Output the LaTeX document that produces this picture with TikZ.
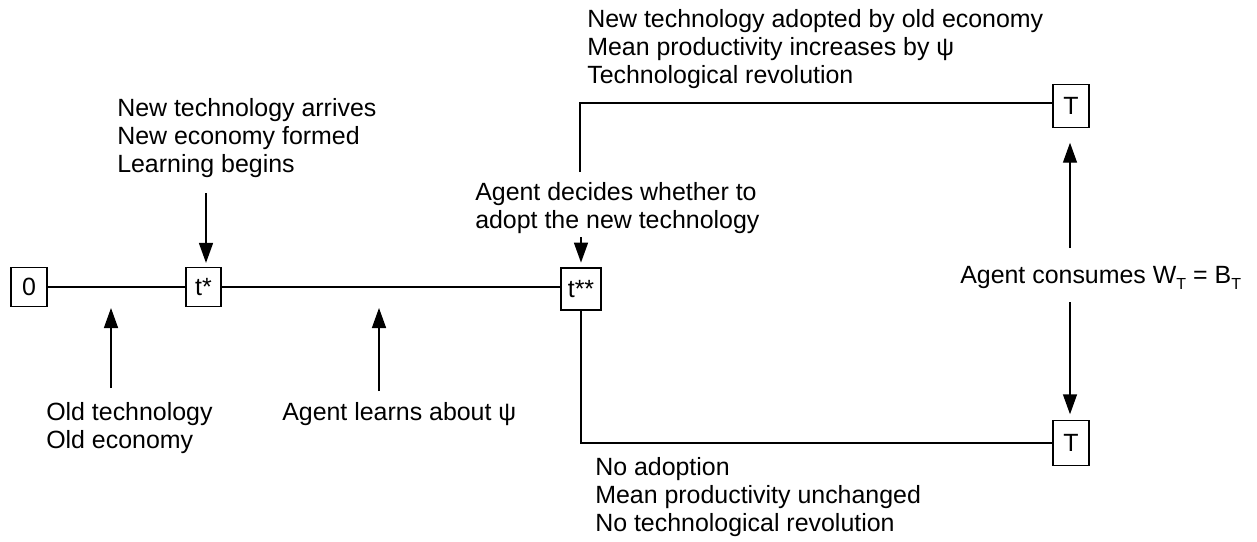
\documentclass[tikz,border=0pt]{standalone}
\usepackage{fontspec}
\setmainfont{Liberation Sans}
\usetikzlibrary{arrows.meta}
\begin{document}
\begin{tikzpicture}[x=0.75pt,y=-0.75pt,
  every node/.style={font=\fontsize{18.7}{21.2}\selectfont},
  stage/.style={draw, line width=1.1pt, inner sep=0pt},
  txt/.style={align=left, anchor=north west, inner sep=0pt},
  link/.style={line width=1.1pt},
  arr/.style={line width=1.1pt, -{Triangle[length=15pt,width=10.5pt]}}]
\useasboundingbox (0,0) rectangle (1257,542);
% stage boxes
\node[stage, minimum width=27pt, minimum height=29pt] (z) at (29,287) {0};
\node[stage, minimum width=26pt, minimum height=29pt] (ts) at (203.5,287) {t*};
\node[stage, minimum width=30pt, minimum height=31.5pt] (tss) at (581,289) {t**};
\node[stage, minimum width=27pt, minimum height=32pt] (Tu) at (1071,106) {T};
\node[stage, minimum width=27pt, minimum height=34pt] (Td) at (1071,443) {T};
% timeline
\draw[link] (z.east) -- (ts.west);
\draw[link] (ts.east) -- (tss.west |- ts.east);
\draw[link] (tss.south) |- (Td.west);
\coordinate (up) at (580,172);
\draw[link] (up) |- ([yshift=2.25pt]Tu.west);
% arrows
\coordinate (a1) at (206,193);
\draw[arr, shorten >=3pt] (a1) -- (a1 |- ts.north);
\coordinate (a2) at (581,237);
\draw[arr, shorten >=3.5pt] (a2) -- (tss.north);
\coordinate (a3s) at (111,388);
\coordinate (a3e) at (111,308);
\draw[arr] (a3s) -- (a3e);
\coordinate (a4s) at (379,391);
\coordinate (a4e) at (379,308);
\draw[arr] (a4s) -- (a4e);
\coordinate (c1) at (1070,248);
\draw[arr, shorten >=11pt] (c1) -- (c1 |- Tu.south);
\coordinate (c2) at (1070,302);
\draw[arr, shorten >=4pt] (c2) -- (c2 |- Td.north);
% texts
\node[txt] (n1) at (117,98) {New technology arrives\\New economy formed\\Learning begins};
\node[txt] (n2) at (587,9) {New technology adopted by old economy\\Mean productivity increases by ψ\\Technological revolution};
\node[txt] (n3) at (475,182) {Agent decides whether to\\adopt the new technology};
\node[anchor=base west, inner sep=0pt] (n4) at (960,283) {Agent consumes W\raisebox{-5pt}{\fontsize{12}{12}\selectfont T} = B\raisebox{-5pt}{\fontsize{12}{12}\selectfont T}};
\node[txt] (n5) at (46,402) {Old technology\\Old economy};
\node[txt] (n6) at (282,402) {Agent learns about ψ};
\node[txt] (n7) at (595,457) {No adoption\\Mean productivity unchanged\\No technological revolution};
\end{tikzpicture}
\end{document}
